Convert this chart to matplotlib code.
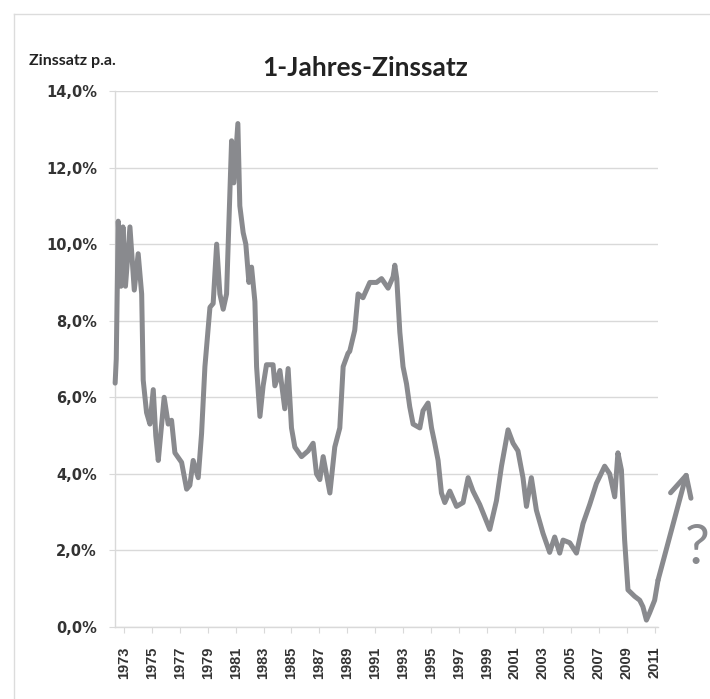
import matplotlib
matplotlib.use("Agg")
import matplotlib.pyplot as plt
from matplotlib.ticker import FuncFormatter
from matplotlib.lines import Line2D

# 1-year interest rate, % p.a. (decimal years)
years = [
    1972.37, 1972.45, 1972.59, 1972.79, 1972.93, 1973.11, 1973.43, 1973.74, 1974.02,
    1974.27, 1974.38, 1974.62, 1974.86, 1975.10, 1975.28, 1975.46, 1975.88, 1976.17,
    1976.41, 1976.65, 1977.13, 1977.49, 1977.72, 1977.96, 1978.32, 1978.56, 1978.80,
    1979.16, 1979.39, 1979.64, 1979.87, 1980.11, 1980.35, 1980.71, 1980.87, 1981.16,
    1981.30, 1981.54, 1981.73, 1981.95, 1982.14, 1982.38, 1982.50, 1982.74, 1982.97,
    1983.21, 1983.68, 1983.81, 1984.17, 1984.52, 1984.76, 1985.00, 1985.24, 1985.72,
    1986.19, 1986.55, 1986.79, 1987.03, 1987.27, 1987.75, 1988.10, 1988.46, 1988.70,
    1989.05, 1989.17, 1989.53, 1989.77, 1990.12, 1990.61, 1991.09, 1991.45, 1991.92,
    1992.28, 1992.40, 1992.54, 1992.76, 1992.99, 1993.24, 1993.47, 1993.71, 1994.19,
    1994.42, 1994.78, 1995.03, 1995.26, 1995.50, 1995.74, 1995.98, 1996.34, 1996.82,
    1997.29, 1997.65, 1998.00, 1998.48, 1999.20, 1999.68, 2000.04, 2000.51, 2000.87,
    2001.22, 2001.58, 2001.83, 2002.18, 2002.54, 2003.01, 2003.49, 2003.85, 2004.21,
    2004.45, 2004.93, 2005.41, 2005.88, 2006.36, 2006.84, 2007.43, 2007.79, 2008.15,
    2008.38, 2008.63, 2008.86, 2009.10, 2009.58, 2009.94, 2010.17, 2010.42, 2010.65,
    2011.01, 2011.25,
]
rates = [
    6.37, 7.0, 10.6, 8.9, 10.45, 8.9, 10.45, 8.8, 9.75,
    8.7, 6.45, 5.6, 5.3, 6.2, 5.0, 4.35, 6.0, 5.3,
    5.4, 4.55, 4.3, 3.6, 3.7, 4.35, 3.9, 5.05, 6.8,
    8.35, 8.45, 10.0, 8.7, 8.3, 8.7, 12.7, 11.6, 13.15,
    11.0, 10.3, 10.0, 9.0, 9.4, 8.5, 6.8, 5.5, 6.3,
    6.85, 6.85, 6.3, 6.7, 5.7, 6.75, 5.2, 4.7, 4.45,
    4.6, 4.8, 4.0, 3.85, 4.45, 3.5, 4.7, 5.2, 6.8,
    7.15, 7.2, 7.75, 8.7, 8.6, 9.0, 9.0, 9.1, 8.85,
    9.15, 9.45, 9.1, 7.7, 6.8, 6.35, 5.75, 5.3, 5.2,
    5.65, 5.85, 5.2, 4.8, 4.35, 3.5, 3.25, 3.55, 3.15,
    3.25, 3.9, 3.55, 3.2, 2.55, 3.3, 4.2, 5.15, 4.8,
    4.6, 3.9, 3.15, 3.9, 3.05, 2.45, 1.95, 2.35, 1.93,
    2.27, 2.2, 1.93, 2.7, 3.2, 3.75, 4.2, 4.0, 3.4,
    4.55, 4.1, 2.27, 0.97, 0.8, 0.7, 0.53, 0.18, 0.37,
    0.7, 1.22,
]
year_ticks = list(range(1973, 2012, 2))
rate_ticks = list(range(0, 15, 2))
# hand-drawn outlook arrow: from the last value to this point
outlook_end = (2013.37, 4.1)

line_color = "#898a8e"
grid_color = "#d9d9d9"

fig = plt.figure(figsize=(7.10, 6.99), dpi=100)
fig.patch.set_facecolor("white")

# chart-area frame (left and top edges visible)
fig.add_artist(Line2D([14 / 710, 14 / 710], [0, 1 - 14 / 699], transform=fig.transFigure,
                      color="#dcdcdc", lw=1))
fig.add_artist(Line2D([14 / 710, 1], [1 - 14 / 699, 1 - 14 / 699], transform=fig.transFigure,
                      color="#dcdcdc", lw=1))

ax = fig.add_axes([115 / 710, 1 - 627 / 699, (658 - 115) / 710, (627 - 91) / 699])
ax.set_facecolor("white")

ax.plot(years, rates, color=line_color, lw=3.6, solid_joinstyle="round",
        solid_capstyle="round", clip_on=False, zorder=3)

ax.annotate("", xy=outlook_end, xytext=(years[-1], rates[-1]),
            xycoords="data", textcoords="data", annotation_clip=False,
            arrowprops=dict(arrowstyle="->,head_length=0.75,head_width=0.38",
                            mutation_scale=20, lw=3.6, color=line_color,
                            shrinkA=0, shrinkB=0, joinstyle="round", capstyle="round"),
            zorder=3)

ax.set_xlim(1972.36, 2011.25)
ax.set_ylim(0, 14)
ax.set_yticks(rate_ticks)
ax.yaxis.set_major_formatter(FuncFormatter(lambda v, p: f"{v:.1f}%".replace(".", ",")))
ax.set_xticks(year_ticks)
ax.set_xticklabels([str(y) for y in year_ticks], rotation=90,
                   fontfamily="Liberation Sans", fontweight="bold", fontsize=10.5,
                   color="#333333")
for lab in ax.get_yticklabels():
    lab.set_fontfamily("DejaVu Sans")
    lab.set_fontweight("bold")
    lab.set_fontsize(10.5)
    lab.set_color("#333333")

ax.grid(axis="y", color=grid_color, lw=1)
ax.set_axisbelow(True)
for side in ("top", "right"):
    ax.spines[side].set_visible(False)
for side in ("left", "bottom"):
    ax.spines[side].set_color(grid_color)
    ax.spines[side].set_linewidth(1)
ax.tick_params(axis="x", length=4, color=grid_color, pad=10)
ax.tick_params(axis="y", length=4, color=grid_color, pad=9)

fig.text(0.514, 1 - 68 / 699, "1-Jahres-Zinssatz", ha="center", va="center",
         fontfamily="Lato", fontweight="bold", fontsize=19, color="#222222")
fig.text(29 / 710, 1 - 61 / 699, "Zinssatz p.a.", ha="left", va="center",
         fontfamily="Lato", fontweight="bold", fontsize=11.5, color="#222222")
fig.text(697 / 710, 1 - 549 / 699, "?", ha="center", va="center",
         fontfamily="Lato", fontsize=40, color=line_color)

fig.savefig("out.png", dpi=100, facecolor="white")
